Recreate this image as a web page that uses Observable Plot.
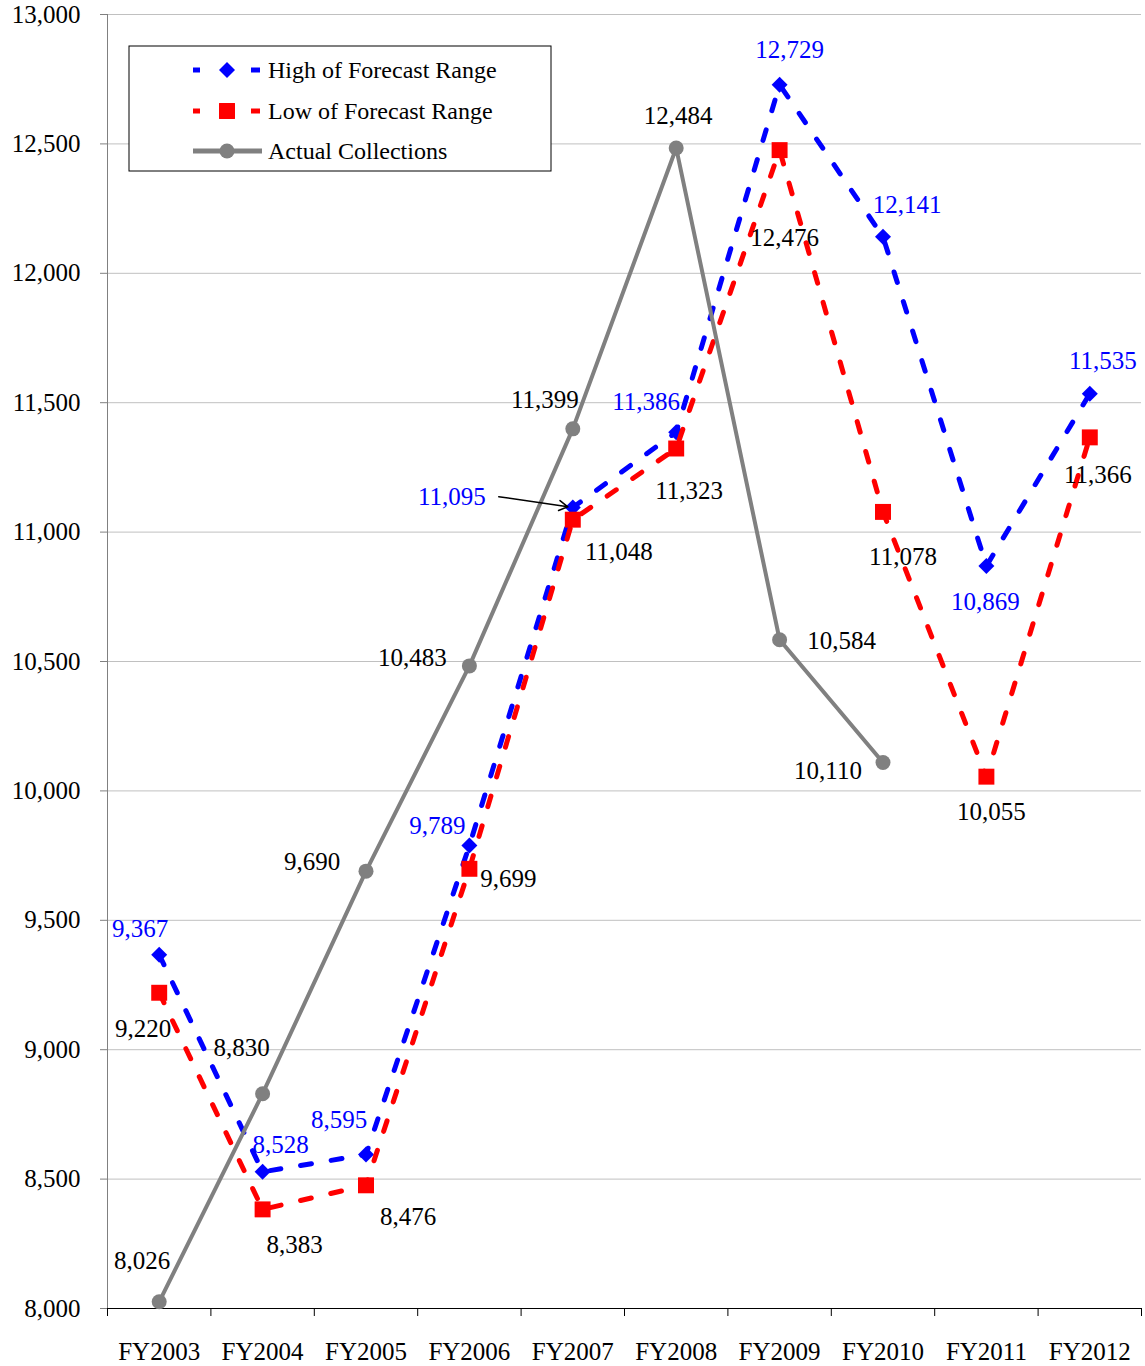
<!DOCTYPE html>
<html><head><meta charset="utf-8">
<script src="https://cdn.jsdelivr.net/npm/d3@7"></script>
<script src="https://cdn.jsdelivr.net/npm/@observablehq/plot@0.6"></script>
<style>body{margin:0;background:#fff}#chart{width:1145px;height:1366px}</style>
</head><body><div id="chart"></div>
<script>
// ---- data ----
const years = ["FY2003","FY2004","FY2005","FY2006","FY2007","FY2008","FY2009","FY2010","FY2011","FY2012"];
const highValues = [9367, 8528, 8595, 9789, 11095, 11386, 12729, 12141, 10869, 11535];
const lowValues = [9220, 8383, 8476, 9699, 11048, 11323, 12476, 11078, 10055, 11366];
const actualValues = [8026, 8830, 9690, 10483, 11399, 12484, 10584, 10110];
const yTicks = [8000, 8500, 9000, 9500, 10000, 10500, 11000, 11500, 12000, 12500, 13000];
const seriesNames = ["High of Forecast Range", "Low of Forecast Range", "Actual Collections"];

// ---- label placement (pixel offsets from the point) ----
const highLabelOffsets = [[-19,-26],[18,-27],[-27,-35],[-32,-20],[-121,-11],[-30,-30],[10,-35],[24,-32],[-1,36],[13,-33]];
const lowLabelOffsets = [[-16,36],[32,36],[42,32],[39,10],[46,32],[13,42],[5,88],[20,45],[5,35],[8,38]];
const actualLabelOffsets = [[-17,-41],[-21,-46],[-54,-9],[-57,-8],[-28,-29],[2,-32],[62,1],[-55,9]];

const FONT = "'Liberation Serif', 'Times New Roman', serif";
const BLUE = "#0000ff", RED = "#ff0000", GRAY = "#808080";
const fmt = d3.format(",");

const high = highValues.map((v, i) => ({i, year: years[i], value: v}));
const low = lowValues.map((v, i) => ({i, year: years[i], value: v}));
const actual = actualValues.map((v, i) => ({i, year: years[i], value: v}));

function labels(rows, offsets, color) {
  return rows.map((d, k) => Plot.text([d], {
    x: "i", y: "value", text: r => fmt(r.value),
    dx: offsets[k][0], dy: offsets[k][1],
    fill: color, fontSize: 25, fontFamily: FONT
  }));
}

const dash = "11,20";

const plot = Plot.plot({
  width: 1145, height: 1366,
  marginLeft: 107, marginRight: 4, marginTop: 14, marginBottom: 58,
  x: {type: "linear", domain: [-0.5, years.length - 0.5], axis: null, label: null},
  y: {domain: [yTicks[0], yTicks[yTicks.length - 1]], axis: null, label: null},
  style: {fontFamily: FONT, background: "white", color: "black"},
  marks: [
    Plot.ruleY(yTicks.slice(1), {stroke: "#c0c0c0", strokeWidth: 1}),
    Plot.axisY({ticks: yTicks, tickSize: 7, tickPadding: 20, tickFormat: fmt, fontSize: 25, stroke: GRAY, fill: "black", label: null}),
    Plot.axisX({ticks: d3.range(years.length), tickFormat: i => years[i], tickSize: 0, tickPadding: 34, fontSize: 25, label: null}),
    Plot.axisX({ticks: d3.range(years.length + 1).map(i => i - 0.5), tickFormat: () => "", tickSize: 8, stroke: "black", label: null}),
    Plot.ruleX([-0.5], {stroke: GRAY, strokeWidth: 1}),
    Plot.ruleY([yTicks[0]], {stroke: "black", strokeWidth: 1}),
    Plot.line(high, {x: "i", y: "value", stroke: BLUE, strokeWidth: 5, strokeDasharray: dash}),
    Plot.dot(high, {x: "i", y: "value", symbol: "diamond2", r: 7.2, fill: BLUE, stroke: null}),
    Plot.line(low, {x: "i", y: "value", stroke: RED, strokeWidth: 5, strokeDasharray: dash}),
    Plot.dot(low, {x: "i", y: "value", symbol: "square", r: 9, fill: RED, stroke: null}),
    Plot.line(actual, {x: "i", y: "value", stroke: GRAY, strokeWidth: 4}),
    Plot.dot(actual, {x: "i", y: "value", r: 7.5, fill: GRAY, stroke: null}),
    ...labels(high, highLabelOffsets, BLUE),
    ...labels(low, lowLabelOffsets, "black"),
    ...labels(actual, actualLabelOffsets, "black"),
    Plot.arrow([high[4]], {
      x1: d => d.i - 0.716, y1: d => d.value + 42, x2: "i", y2: "value",
      insetEnd: 5, stroke: "black", strokeWidth: 1.5, headLength: 10
    })
  ]
});

// ---- legend (inside plot area, top-left) ----
const svg = d3.select(plot);
const lg = svg.append("g").attr("transform", "translate(129,46)").attr("text-anchor", "start");
lg.append("rect").attr("width", 422).attr("height", 125).attr("fill", "white").attr("stroke", "black").attr("stroke-width", 1);
const rowsY = [24, 65, 105];
const colors = [BLUE, RED, GRAY];
seriesNames.forEach((name, k) => {
  const g = lg.append("g").attr("transform", `translate(0,${rowsY[k]})`);
  if (k < 2) {
    g.append("line").attr("x1", 64).attr("x2", 71).attr("y1", 0).attr("y2", 0).attr("stroke", colors[k]).attr("stroke-width", 5);
    g.append("line").attr("x1", 122).attr("x2", 131).attr("y1", 0).attr("y2", 0).attr("stroke", colors[k]).attr("stroke-width", 5);
    const sym = k === 0 ? d3.symbolDiamond2 : d3.symbolSquare;
    const size = k === 0 ? Math.PI * 7.2 * 7.2 : Math.PI * 81;
    g.append("path").attr("transform", "translate(98,0)").attr("d", d3.symbol(sym, size)()).attr("fill", colors[k]);
  } else {
    g.append("line").attr("x1", 64).attr("x2", 133).attr("y1", 0).attr("y2", 0).attr("stroke", GRAY).attr("stroke-width", 5);
    g.append("circle").attr("cx", 98).attr("cy", 0).attr("r", 7.5).attr("fill", GRAY);
  }
  g.append("text").attr("x", 139).attr("y", 8).attr("text-anchor", "start").attr("font-size", 24).attr("font-family", FONT).attr("fill", "black").text(name);
});

document.getElementById("chart").append(plot);
</script>
</body></html>
